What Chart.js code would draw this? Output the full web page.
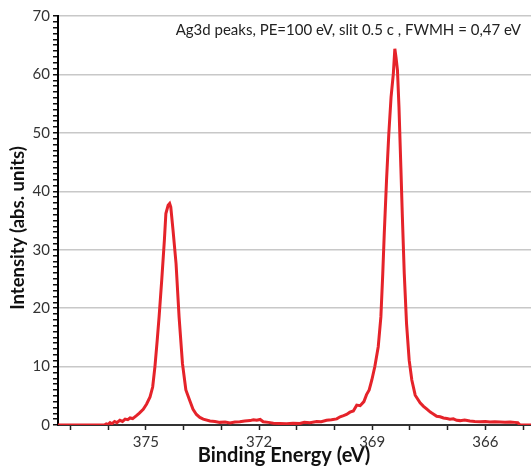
<!DOCTYPE html>
<html>
<head>
<meta charset="utf-8">
<script src="https://cdn.jsdelivr.net/npm/chart.js@4/dist/chart.umd.min.js"></script>
<style>
html,body{margin:0;padding:0;background:#fff;}
#wrap{width:531px;height:469px;}
</style>
</head>
<body>
<div id="wrap"><canvas id="c" width="531" height="469"></canvas></div>
<script>
const energy = [377.33,376.10,376.05,376.00,375.95,375.90,375.83,375.77,375.69,375.62,375.55,375.48,375.42,375.35,375.25,375.18,375.07,374.98,374.89,374.82,374.76,374.70,374.65,374.58,374.51,374.47,374.41,374.37,374.34,374.28,374.20,374.12,374.03,373.94,373.85,373.75,373.66,373.57,373.48,373.30,373.17,373.04,372.90,372.77,372.64,372.51,372.38,372.24,372.15,372.06,371.97,371.89,371.75,371.62,371.45,371.27,371.10,370.92,370.80,370.65,370.47,370.35,370.21,370.08,369.94,369.85,369.76,369.68,369.59,369.50,369.41,369.32,369.22,369.15,369.08,369.01,368.93,368.84,368.77,368.72,368.68,368.62,368.56,368.50,368.44,368.40,368.37,368.33,368.29,368.24,368.20,368.15,368.09,368.02,367.95,367.86,367.73,367.64,367.55,367.46,367.38,367.29,367.20,367.11,367.02,366.94,366.85,366.76,366.67,366.55,366.41,366.28,366.14,366.00,365.88,365.75,365.61,365.48,365.34,365.22,365.14,365.08,364.79];
const intensity = [0,0,0.2,0.1,0.4,0.2,0.6,0.4,0.8,0.6,1.0,0.9,1.2,1.1,1.6,2.0,2.7,3.6,4.8,6.5,10,14.5,18.5,24.8,31.6,36.2,37.6,37.9,37.3,33.3,27.6,18.5,10.5,6.0,4.4,2.7,1.8,1.3,1.0,0.7,0.6,0.45,0.5,0.35,0.5,0.55,0.7,0.75,0.9,0.8,0.95,0.55,0.45,0.3,0.25,0.2,0.3,0.25,0.45,0.4,0.6,0.55,0.8,0.9,1.05,1.4,1.6,1.8,2.2,2.4,3.4,3.3,4.0,5.2,6.0,7.7,10,13.4,18.5,25.9,32.8,41.9,49.8,56.1,60.1,64.4,63,60.7,54.4,44.1,35.6,25.9,17.4,11.1,7.7,5.1,3.8,3.2,2.7,2.2,1.9,1.5,1.4,1.2,1.1,1.0,1.05,0.8,0.75,0.85,0.7,0.6,0.55,0.6,0.5,0.55,0.5,0.45,0.5,0.45,0.4,0,0];
const xLabelTicks = [375,372,369,366];
const yLabelTicks = [0,10,20,30,40,50,60,70];
const annotation = "Ag3d peaks, PE=100 eV, slit 0.5 c , FWMH = 0,47 eV";
const xTitle = "Binding Energy (eV)";
const yTitle = "Intensity (abs. units)";

const FONT = "Lato, 'Open Sans', sans-serif";

const textPlugin = {
  id: 'texts',
  afterDraw(chart) {
    const ctx = chart.ctx, a = chart.chartArea;
    ctx.save();
    ctx.font = "15px " + FONT;
    ctx.fillStyle = "#222";
    ctx.textAlign = "right";
    ctx.textBaseline = "middle";
    ctx.fillText(annotation, a.right - 10, 30);
    // x axis title
    ctx.font = "bold 20px " + FONT;
    ctx.fillStyle = "#111";
    ctx.textAlign = "center";
    ctx.fillText(xTitle, 284, 456);
    // y axis title
    ctx.translate(18, 228);
    ctx.rotate(-Math.PI / 2);
    ctx.font = "bold 18.5px " + FONT;
    ctx.fillText(yTitle, 0, 0);
    ctx.restore();
  }
};

new Chart(document.getElementById('c'), {
  type: 'scatter',
  data: {
    datasets: [{
      data: energy.map((e, i) => ({x: e, y: intensity[i]})),
      showLine: true,
      borderColor: '#e5232a',
      borderWidth: 3,
      pointRadius: 0,
      tension: 0,
      fill: false
    }]
  },
  options: {
    responsive: false,
    animation: false,
    layout: {padding: {top: 16, right: 0, left: 0, bottom: 0}},
    plugins: {legend: {display: false}, tooltip: {enabled: false}},
    scales: {
      x: {
        type: 'linear',
        reverse: true,
        min: 364.79,
        max: 377.33,
        afterFit(s) { s.height = 44; },
        border: {display: true, color: '#333', width: 2},
        grid: {drawOnChartArea: false, drawTicks: true, tickColor: '#222', tickLength: 5, tickWidth: 1.5},
        ticks: {
          stepSize: 1,
          includeBounds: false,
          autoSkip: false,
          maxRotation: 0,
          padding: 3,
          color: '#333',
          font: {family: FONT, size: 15},
          callback: v => xLabelTicks.includes(Math.round(v)) && Math.abs(v - Math.round(v)) < 1e-6 ? String(Math.round(v)) : ''
        },
        title: {display: false}
      },
      y: {
        min: 0,
        max: 70,
        afterFit(s) { s.width = 58; },
        border: {display: true, color: '#000', width: 2},
        grid: {
          drawOnChartArea: true,
          color: c => (c.tick && c.tick.value % 10 === 0) ? '#c8c8c8' : 'rgba(0,0,0,0)',
          lineWidth: 1.5,
          tickColor: '#111',
          tickLength: 5,
          tickWidth: 1.5
        },
        ticks: {
          stepSize: 1,
          autoSkip: false,
          padding: 3,
          color: '#333',
          font: {family: FONT, size: 15},
          callback: v => yLabelTicks.includes(v) ? String(v) : ''
        },
        title: {display: false}
      }
    }
  },
  plugins: [textPlugin]
});
</script>
</body>
</html>
